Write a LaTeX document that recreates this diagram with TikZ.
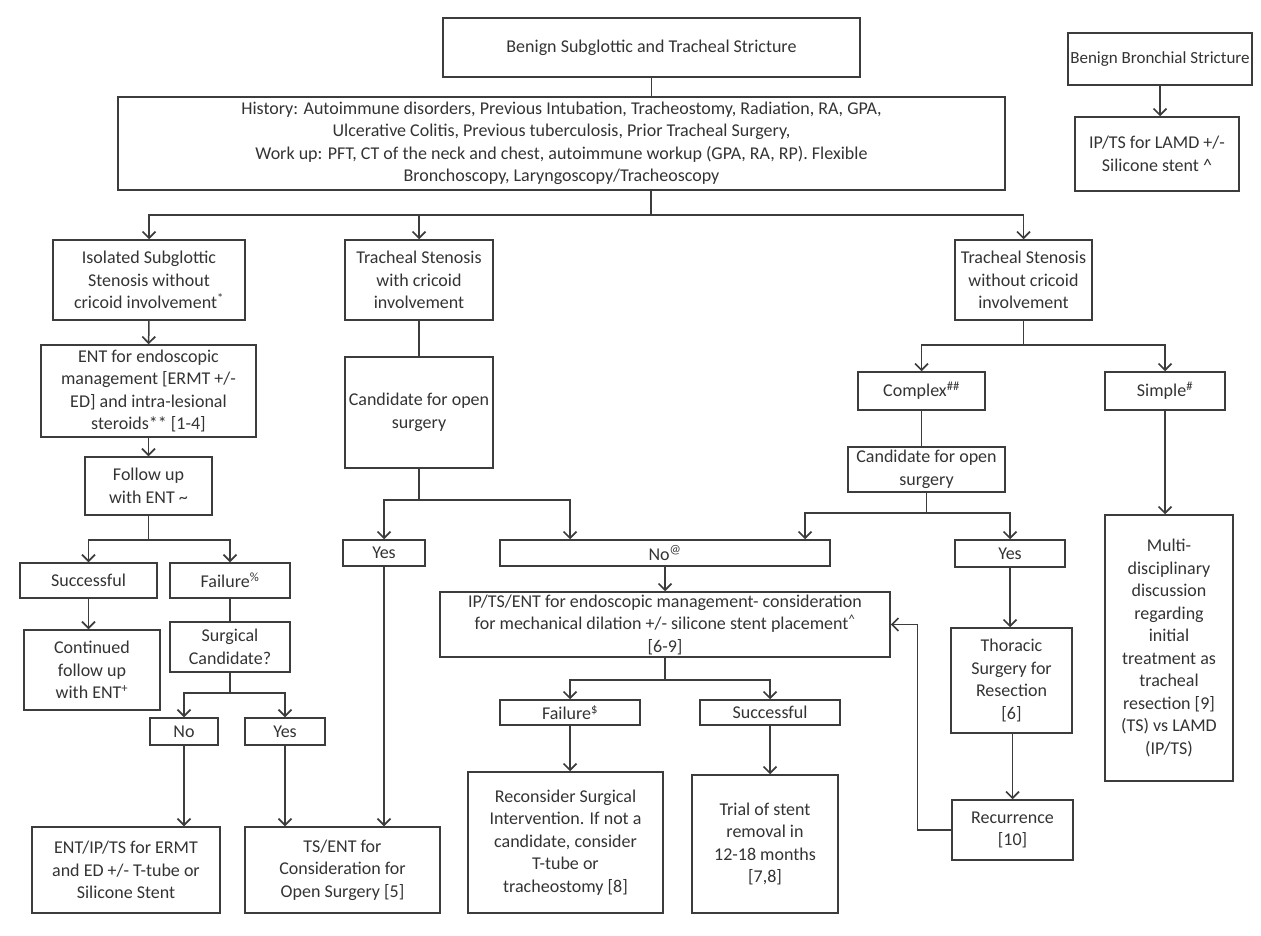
\documentclass[tikz,border=0pt]{standalone}
\usepackage{fontspec}
\setmainfont{Carlito}
\usetikzlibrary{arrows.meta}
\definecolor{ink}{HTML}{333333}
\definecolor{edge}{HTML}{3C3C3C}
\begin{document}
\begin{tikzpicture}[x=1pt,y=-1pt,
  box/.style={draw=edge, line width=1.5pt, rectangle, align=center, inner sep=2pt,
    text=ink, font=\fontsize{18}{22.5}\selectfont},
  link/.style={draw=edge, line width=1.5pt},
  arr/.style={link, -{Straight Barb[length=6.5pt,width=13pt,line width=1.7pt]}}]
\useasboundingbox (0,0) rectangle (1261,936);

% helper: box with given centre, width and height
\newcommand\bx[6]{\node[box, minimum width=#4pt, minimum height=#5pt] (#1) at (#2,#3) {#6};}

% top row
\bx{top}{651.5}{47.5}{417}{59}{Benign Subglottic and Tracheal Stricture}
\bx{hist}{561.5}{143.5}{887}{93}{History: Autoimmune disorders, Previous Intubation, Tracheostomy, Radiation, RA, GPA,\\Ulcerative Colitis, Previous tuberculosis, Prior Tracheal Surgery,\\Work up: PFT, CT of the neck and chest, autoimmune workup (GPA, RA, RP). Flexible\\Bronchoscopy, Laryngoscopy/Tracheoscopy}
\node[box, font=\fontsize{17}{21}\selectfont, minimum width=184pt, minimum height=52pt] (bron) at (1160,59) {Benign Bronchial Stricture};
\bx{ipone}{1157}{154}{164}{74}{IP/TS for LAMD +/-\\Silicone stent \textasciicircum}

% three stenosis types
\bx{iso}{149}{280}{192}{80}{Isolated Subglottic\\Stenosis without\\cricoid involvement\textsuperscript{*}}
\bx{trcri}{419}{280}{148}{80}{Tracheal Stenosis\\with cricoid\\involvement}
\bx{trno}{1023.5}{280}{137}{80}{Tracheal Stenosis\\without cricoid\\involvement}

% left branch
\bx{endo}{148.5}{391}{215}{92}{ENT for endoscopic\\management [ERMT +/-\\ED] and intra-lesional\\steroids** [1-4]}
\bx{follow}{148.5}{486}{127}{58}{Follow up\\with ENT \textasciitilde}
\bx{succone}{88.5}{580.5}{137}{35}{Successful}
\bx{failone}{230}{580.5}{120}{35}{Failure\textsuperscript{\%}}
\bx{cont}{92}{670}{136}{80}{Continued\\follow up\\with ENT\textsuperscript{+}}
\bx{surgc}{230}{647}{120}{50}{Surgical\\Candidate?}
\bx{noone}{184}{731.5}{68}{27}{No}
\bx{yesone}{285}{731.5}{80}{27}{Yes}
\bx{entip}{126}{870}{188}{86}{ENT/IP/TS for ERMT\\and ED +/- T-tube or\\Silicone Stent}
\bx{tsent}{342.5}{870}{195}{86}{TS/ENT for\\Consideration for\\Open Surgery [5]}

% middle branch
\bx{candone}{419}{412.5}{148}{111}{Candidate for open\\surgery}
\bx{yestwo}{384}{553}{82}{26}{Yes}
\bx{notwo}{665}{553}{330}{26}{No\textsuperscript{@}}
\bx{iptwo}{665}{624.5}{450}{65}{IP/TS/ENT for endoscopic management- consideration\\for mechanical dilation +/- silicone stent placement\textsuperscript{\textasciicircum}\\{}[6-9]}
\bx{failtwo}{570}{712.5}{140}{25}{Failure\textsuperscript{\$}}
\bx{succtwo}{770}{712.5}{140}{25}{Successful}
\bx{recon}{565.5}{842.5}{195}{141}{Reconsider Surgical\\Intervention. If not a\\candidate, consider\\T-tube or\\tracheostomy [8]}
\bx{trial}{765}{844}{146}{138}{Trial of stent\\removal in\\12-18 months\\{}[7,8]}

% right branch
\bx{complex}{921.5}{391}{127}{38}{Complex\textsuperscript{\#\#}}
\bx{simple}{1165}{391}{120}{38}{Simple\textsuperscript{\#}}
\bx{candtwo}{926.5}{469.5}{157}{45}{Candidate for open\\surgery}
\bx{yesthree}{1010}{553.5}{110}{27}{Yes}
\bx{thor}{1011.5}{680.5}{121}{105}{Thoracic\\Surgery for\\Resection\\{}[6]}
\bx{recur}{1012.5}{830}{121}{60}{Recurrence\\{}[10]}
\bx{multi}{1169}{648}{128}{266}{Multi-\\disciplinary\\discussion\\regarding\\initial\\treatment as\\tracheal\\resection [9]\\(TS) vs LAMD\\(IP/TS)}

% junction points of the branching connectors
\coordinate (jtop) at (651,215);
\coordinate (jfol) at (148.5,540);
\coordinate (jsur) at (230,693);
\coordinate (jcan) at (419,500);
\coordinate (jcr) at (926.5,513);
\coordinate (jcrl) at (805,513);
\coordinate (jip) at (665,680);
\coordinate (jtr) at (1023.5,345);

% connectors
\draw[link] (top.south) -- (top.south |- hist.north);
\draw[arr] (bron.south) -- (bron.south |- ipone.north);
\draw[link] (hist.south -| jtop) -- (jtop);
\draw[arr] (jtop) -| (iso);
\draw[arr] (jtop) -| (trcri);
\draw[arr] (jtop) -| (trno);

\draw[arr] (iso) -- (endo);
\draw[arr] (endo) -- (follow);
\draw[link] (follow) -- (jfol);
\draw[arr] (jfol) -| (succone);
\draw[arr] (jfol) -| (failone);
\draw[arr] (succone.south) -- (succone.south |- cont.north);
\draw[link] (failone) -- (surgc);
\draw[link] (surgc) -- (jsur);
\draw[arr] (jsur) -| (noone);
\draw[arr] (jsur) -| (yesone);
\draw[arr] (noone.south) -- (noone.south |- entip.north);
\draw[arr] (yesone.south) -- (yesone.south |- tsent.north);

\draw[link] (trcri) -- (candone);
\draw[link] (candone) -- (jcan);
\draw[arr] (jcan) -| (failtwo |- notwo.north);
\draw[arr] (jcan) -| (yestwo);
\draw[arr] (yestwo.south) -- (yestwo.south |- tsent.north);
\draw[arr] (notwo) -- (iptwo);
\draw[link] (iptwo) -- (jip);
\draw[arr] (jip) -| (failtwo);
\draw[arr] (jip) -| (succtwo);
\draw[arr] (failtwo.south) -- (failtwo.south |- recon.north);
\draw[arr] (succtwo.south) -- (succtwo.south |- trial.north);

\draw[link] (trno) -- (jtr);
\draw[arr] (jtr) -| (complex);
\draw[arr] (jtr) -| (simple);
\draw[link] (complex) -- (complex |- candtwo.north);
\draw[link] (candtwo.south) -- (jcr);
\draw[arr] (jcr) -- (jcrl) -- (jcrl |- notwo.north);
\draw[arr] (jcr) -| (yesthree);
\draw[arr] (yesthree) -- (yesthree |- thor.north);
\draw[arr] (thor.south -| recur) -- (recur);
\draw[arr] (simple.south) -- (simple.south |- multi.north);
\draw[arr] (recur.west) -- ++(-34,0) |- (iptwo.east);
\end{tikzpicture}
\end{document}
